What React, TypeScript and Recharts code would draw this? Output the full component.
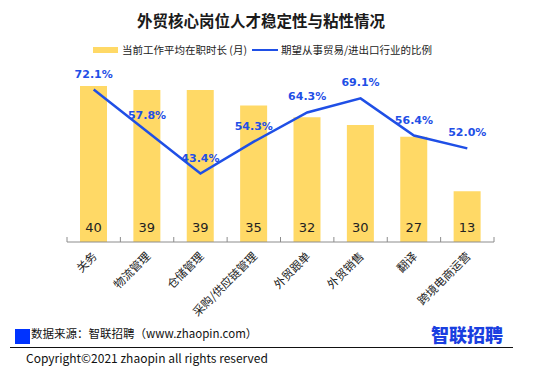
import React from "react";
import { ComposedChart, Bar, Line, XAxis, YAxis, LabelList } from "recharts";

const categories = ["关务", "物流管理", "仓储管理", "采购/供应链管理", "外贸跟单", "外贸销售", "翻译", "跨境电商运营"];
const tenureMonths = [40, 39, 39, 35, 32, 30, 27, 13];
const stayRatio = [72.1, 57.8, 43.4, 54.3, 64.3, 69.1, 56.4, 52.0];

const data = categories.map((name, i) => ({ name, tenure: tenureMonths[i], ratio: stayRatio[i] }));

const CJK = '"Noto Sans CJK SC", "Noto Sans", sans-serif';
const YELLOW = "#FFD966";
const BLUE = "#1f4fe6";

const CategoryTick = (props: any) => {
  const { x, y, payload, index } = props;
  const half = payload?.offset ?? 26.7;
  return (
    <g>
      <line x1={x - half} y1={y - 5} x2={x - half} y2={y} stroke="#8c8c8c" />
      {index === categories.length - 1 && <line x1={x + half} y1={y - 5} x2={x + half} y2={y} stroke="#8c8c8c" />}
      <text
        x={x + 4}
        y={y + 15}
        transform={`rotate(-45, ${x + 4}, ${y + 15})`}
        textAnchor="end"
        fontSize={11.5}
        fill="#222"
        fontFamily={CJK}
      >
        {payload.value}
      </text>
    </g>
  );
};

const App = () => {
  return (
    <div style={{ position: "absolute", left: 0, top: 0, width: 554, height: 375, background: "#fff", fontFamily: CJK }}>
      <div style={{ position: "absolute", left: 0, width: 522, top: 9, textAlign: "center", fontSize: 15.5, fontWeight: 700, color: "#1a1a1a" }}>
        外贸核心岗位人才稳定性与粘性情况
      </div>
      <div style={{ position: "absolute", left: 93, top: 42, display: "flex", alignItems: "center", fontSize: 10.5, color: "#222", whiteSpace: "nowrap" }}>
        <span style={{ display: "inline-block", width: 25, height: 6, background: YELLOW, marginRight: 4 }} />
        <span>当前工作平均在职时长 (月)</span>
        <span style={{ display: "inline-block", width: 26, height: 2, background: BLUE, marginLeft: 5, marginRight: 3 }} />
        <span>期望从事贸易/进出口行业的比例</span>
      </div>

      <div style={{ position: "absolute", left: 0, top: 0 }}>
        <ComposedChart width={554} height={340} data={data} margin={{ top: 66.5, right: 60, left: 67, bottom: 28 }}>
          <XAxis
            dataKey="name"
            interval={0}
            height={70}
            tickSize={0}
            tickMargin={0}
            axisLine={{ stroke: "#8c8c8c" }}
            tickLine={false}
            tick={<CategoryTick />}
          />
          <YAxis yAxisId="left" domain={[0, 45]} hide />
          <YAxis yAxisId="right" orientation="right" domain={[20, 80]} hide />
          <Bar yAxisId="left" dataKey="tenure" fill={YELLOW} barSize={27} isAnimationActive={false}>
            <LabelList dataKey="tenure" position="insideBottom" offset={10} fill="#222" fontSize={13} fontFamily="DejaVu Sans, sans-serif" />
          </Bar>
          <Line
            yAxisId="right"
            dataKey="ratio"
            stroke={BLUE}
            strokeWidth={2.5}
            dot={false}
            activeDot={false}
            isAnimationActive={false}
          >
            <LabelList
              dataKey="ratio"
              position="top"
              offset={12}
              fill={BLUE}
              fontSize={11}
              fontWeight={700}
              fontFamily="DejaVu Sans, sans-serif"
              formatter={(v: any) => `${Number(v).toFixed(1)}%`}
            />
          </Line>
        </ComposedChart>
      </div>

      <div style={{ position: "absolute", left: 15, top: 329, width: 15, height: 15, background: "#0033ff" }} />
      <div style={{ position: "absolute", left: 31, top: 325, fontSize: 11.5, color: "#111", whiteSpace: "nowrap" }}>
        数据来源：智联招聘（www.zhaopin.com）
      </div>
      <div style={{ position: "absolute", left: 431, top: 321, fontSize: 18, fontWeight: 900, color: "#1a3fe0", whiteSpace: "nowrap" }}>
        智联招聘
      </div>
      <div style={{ position: "absolute", left: 10, top: 347, width: 503, height: 1, background: "#111" }} />
      <div style={{ position: "absolute", left: 26, top: 349, fontSize: 12, color: "#111", whiteSpace: "nowrap" }}>
        Copyright©2021 zhaopin all rights reserved
      </div>
    </div>
  );
};

export default App;
